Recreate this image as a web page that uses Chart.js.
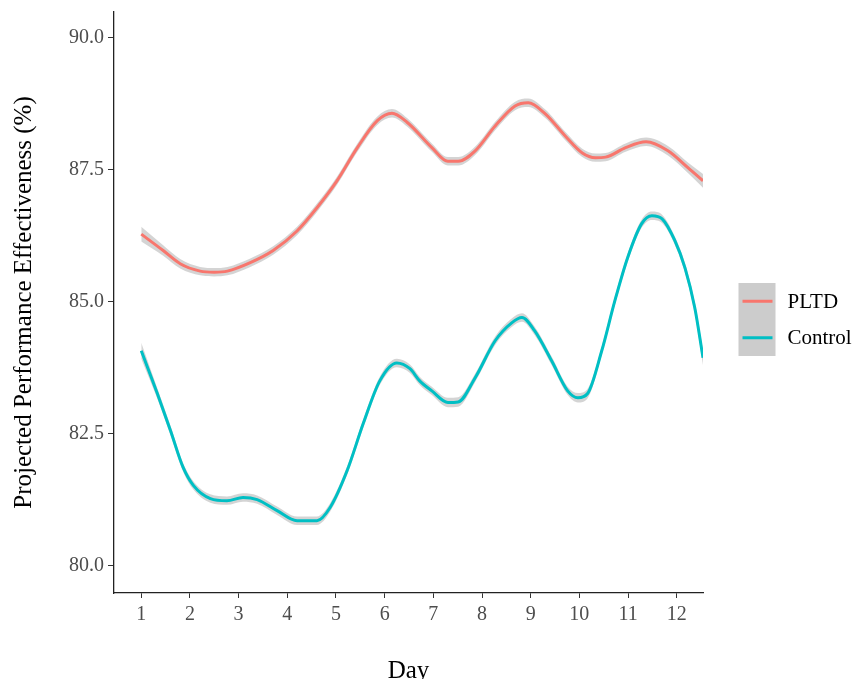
<!DOCTYPE html>
<html><head><meta charset="utf-8">
<script src="https://cdn.jsdelivr.net/npm/chart.js@4"></script>
<style>html,body{margin:0;padding:0;background:#fff;}</style>
</head><body>
<canvas id="c" width="855" height="679"></canvas>
<script>
// ---- data ----
const seriesLabels = ['PLTD', 'Control'];
const xTicks = [1, 2, 3, 4, 5, 6, 7, 8, 9, 10, 11, 12];
const yTicks = [80, 82.5, 85, 87.5, 90];

const pltdDays = [1.00, 1.45, 1.80, 2.21, 2.50, 2.77, 3.24, 3.71, 4.20, 4.61, 5.02, 5.44, 5.85, 6.15, 6.46, 6.97, 7.30, 7.51, 7.86, 8.27, 8.68, 8.95, 9.30, 9.71, 10.06, 10.33, 10.54, 10.95, 11.37, 11.82, 12.23, 12.54];
const pltdValues = [86.28, 85.97, 85.72, 85.58, 85.56, 85.58, 85.74, 85.97, 86.34, 86.78, 87.29, 87.92, 88.43, 88.57, 88.40, 87.92, 87.66, 87.66, 87.86, 88.33, 88.71, 88.77, 88.56, 88.14, 87.82, 87.73, 87.74, 87.92, 88.03, 87.86, 87.54, 87.29];
const pltdBand = [0.14, 0.10, 0.09, 0.08, 0.08, 0.08, 0.08, 0.08, 0.08, 0.08, 0.08, 0.08, 0.08, 0.08, 0.08, 0.08, 0.08, 0.08, 0.08, 0.08, 0.08, 0.08, 0.08, 0.08, 0.08, 0.08, 0.08, 0.08, 0.08, 0.09, 0.10, 0.13];

const controlDays = [1.00, 1.33, 1.60, 1.86, 2.07, 2.42, 2.76, 3.09, 3.38, 3.79, 4.20, 4.61, 4.88, 5.23, 5.56, 5.90, 6.25, 6.52, 6.72, 6.97, 7.30, 7.51, 7.86, 8.27, 8.61, 8.82, 9.08, 9.43, 9.76, 9.97, 10.17, 10.46, 10.73, 10.99, 11.28, 11.49, 11.70, 11.96, 12.17, 12.37, 12.54];
const controlValues = [84.07, 83.26, 82.56, 81.86, 81.52, 81.27, 81.23, 81.29, 81.25, 81.04, 80.85, 80.85, 81.10, 81.80, 82.69, 83.50, 83.84, 83.73, 83.50, 83.31, 83.09, 83.10, 83.56, 84.26, 84.60, 84.70, 84.45, 83.88, 83.31, 83.18, 83.26, 84.07, 85.02, 85.83, 86.48, 86.63, 86.57, 86.16, 85.64, 84.89, 83.94];
const controlBand = [0.15, 0.10, 0.09, 0.08, 0.08, 0.08, 0.08, 0.08, 0.08, 0.08, 0.08, 0.08, 0.08, 0.08, 0.08, 0.08, 0.08, 0.08, 0.08, 0.08, 0.09, 0.09, 0.08, 0.08, 0.08, 0.08, 0.08, 0.08, 0.08, 0.09, 0.09, 0.08, 0.08, 0.08, 0.08, 0.08, 0.08, 0.08, 0.09, 0.11, 0.14];

// ---- styling ----
const colors = ['#F8766D', '#00BFC4'];
const bandFill = 'rgba(153,153,153,0.42)';
const serif = "'Liberation Serif', 'Times New Roman', serif";

const pts = (xs, ys, band, sign) => xs.map((x, i) => ({x: x, y: ys[i] + sign * (band ? band[i] : 0)}));

const lineDs = (label, xs, ys, color) => ({
  label: label, data: pts(xs, ys, null, 0), borderColor: color, borderWidth: 3,
  pointRadius: 0, fill: false, cubicInterpolationMode: 'monotone', order: 0
});
const bandDs = (xs, ys, band, sign, fill) => ({
  label: '', data: pts(xs, ys, band, sign), borderColor: 'rgba(0,0,0,0)', borderWidth: 0,
  backgroundColor: bandFill, pointRadius: 0, fill: fill, cubicInterpolationMode: 'monotone', order: 1
});

const legendPlugin = {
  id: 'ggLegend',
  afterDraw(chart) {
    const ctx = chart.ctx;
    const left = chart.chartArea.right + 35.5, top = 283, w = 37, keyH = 36.5;
    ctx.save();
    ctx.fillStyle = '#cccccc';
    ctx.fillRect(left, top, w, keyH * 2);
    [0, 1].forEach(i => {
      const ds = chart.data.datasets[i];
      const cy = top + keyH * i + keyH / 2;
      ctx.strokeStyle = ds.borderColor;
      ctx.lineWidth = 3;
      ctx.beginPath();
      ctx.moveTo(left + 4, cy);
      ctx.lineTo(left + w - 3, cy);
      ctx.stroke();
      ctx.fillStyle = '#000';
      ctx.font = '21px ' + serif;
      ctx.textBaseline = 'middle';
      ctx.textAlign = 'left';
      ctx.fillText(ds.label, left + 49, cy + 1);
    });
    ctx.restore();
  }
};

new Chart(document.getElementById('c'), {
  type: 'line',
  data: {
    datasets: [
      lineDs(seriesLabels[0], pltdDays, pltdValues, colors[0]),
      lineDs(seriesLabels[1], controlDays, controlValues, colors[1]),
      bandDs(pltdDays, pltdValues, pltdBand, 1, '+1'),
      bandDs(pltdDays, pltdValues, pltdBand, -1, false),
      bandDs(controlDays, controlValues, controlBand, 1, '+1'),
      bandDs(controlDays, controlValues, controlBand, -1, false)
    ]
  },
  options: {
    responsive: false,
    animation: false,
    devicePixelRatio: 1,
    layout: {padding: {left: 0, right: 152, top: 12, bottom: 0}},
    plugins: {legend: {display: false}, tooltip: {enabled: false}},
    scales: {
      x: {
        type: 'linear', min: 0.44, max: 12.54,
        afterBuildTicks: s => { s.ticks = xTicks.map(v => ({value: v})); },
        afterFit: s => { s.height = 86; s.paddingLeft = 0; s.paddingRight = 0; },
        ticks: {font: {family: serif, size: 20}, color: '#4d4d4d', padding: 5, maxRotation: 0, autoSkip: false},
        grid: {drawOnChartArea: false, drawTicks: true, tickLength: 5, color: '#333', lineWidth: 1},
        border: {display: true, color: '#222', width: 1.3},
        title: {display: true, text: 'Day', font: {family: serif, size: 25}, color: '#000', padding: {top: 0, bottom: -7}}
      },
      y: {
        type: 'linear', min: 79.48, max: 90.49,
        afterBuildTicks: s => { s.ticks = yTicks.map(v => ({value: v})); },
        afterFit: s => { s.width = 114; s.paddingTop = 0; s.paddingBottom = 0; },
        ticks: {font: {family: serif, size: 20}, color: '#4d4d4d', padding: 4, callback: v => Number(v).toFixed(1)},
        grid: {drawOnChartArea: false, drawTicks: true, tickLength: 6, color: '#333', lineWidth: 1},
        border: {display: true, color: '#222', width: 1.3},
        title: {display: true, text: 'Projected Performance Effectiveness (%)', font: {family: serif, size: 25}, color: '#000', padding: {top: 9, bottom: 0}}
      }
    }
  },
  plugins: [legendPlugin]
});
</script>
</body></html>
